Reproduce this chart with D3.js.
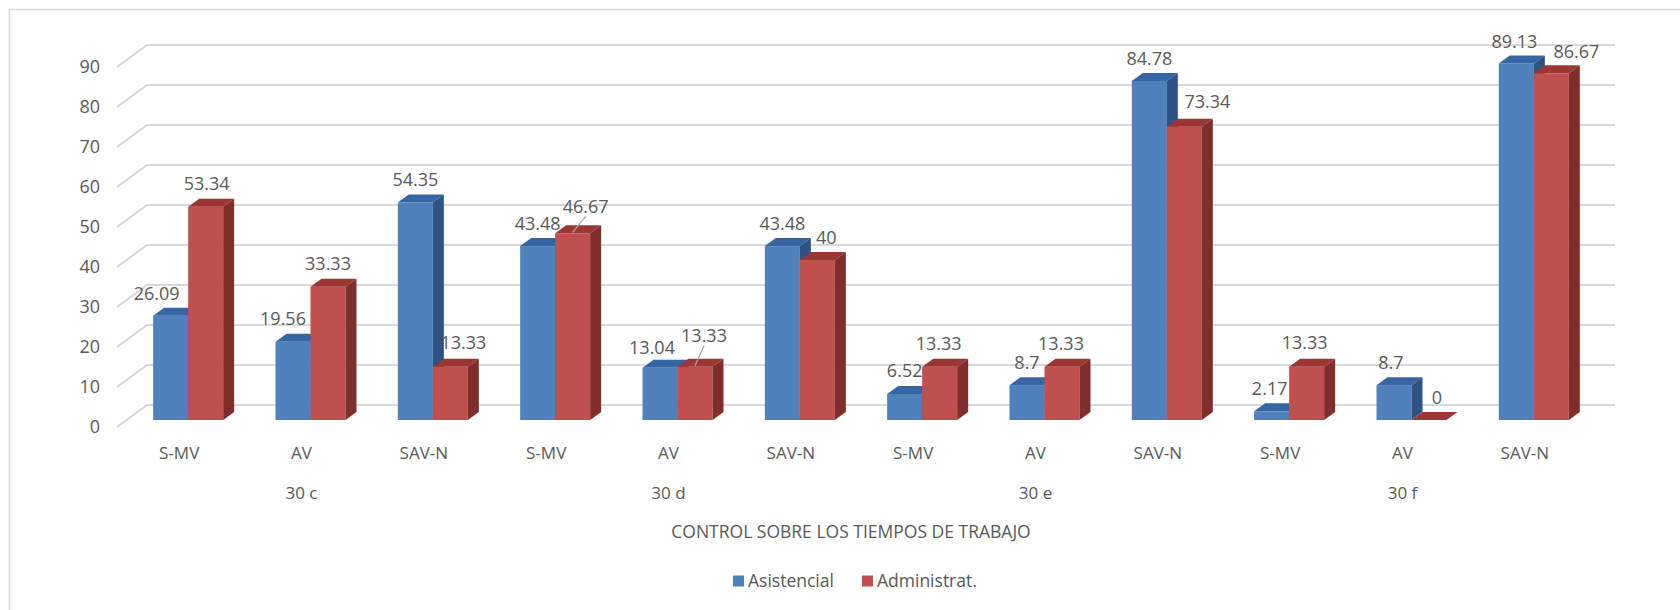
<!DOCTYPE html>
<html>
<head>
<meta charset="utf-8">
<script src="https://cdn.jsdelivr.net/npm/d3@7"></script>
<style>
  body { margin: 0; background: #fff; }
  text { font-family: "Open Sans", sans-serif; fill: #595959; }
</style>
</head>
<body>
<svg id="chart"></svg>
<script>
const width = 1680, height = 610;

// Data
const categories = ["S-MV", "AV", "SAV-N", "S-MV", "AV", "SAV-N", "S-MV", "AV", "SAV-N", "S-MV", "AV", "SAV-N"];
const groups = ["30 c", "30 d", "30 e", "30 f"];
const asistencial = [26.09, 19.56, 54.35, 43.48, 13.04, 43.48, 6.52, 8.7, 84.78, 2.17, 8.7, 89.13];
const administrat = [53.34, 33.33, 13.33, 46.67, 13.33, 40, 13.33, 13.33, 73.34, 13.33, 0, 86.67];
const seriesNames = ["Asistencial", "Administrat."];
const yTicks = [0, 10, 20, 30, 40, 50, 60, 70, 80, 90];
const axisTitle = "CONTROL SOBRE LOS TIEMPOS DE TRABAJO";

// Colours: front, top, side
const colors = {
    "Asistencial": ["#4f81bd", "#3665a3", "#2d5283"],
    "Administrat.": ["#c0504d", "#9a3734", "#7f2e2c"]
};

// 3D look: floor front edge, bar plane, back wall
const plotLeft = 117, plotRight = 1585;
const wallDx = 30, wallDy = 22;   // floor depth
const barDx = 10, barDy = 7;      // bar plane offset from floor front
const sideDx = 11, sideDy = 8;    // bar thickness
const barW = 35;

// label nudges (dx) so labels don't collide, like the original
const labelNudge = {
    "Asistencial": [-14, -10, 0, 0, -8, 0, 0, 0, 0, -2, -3, -2],
    "Administrat.": [1, 0, 13, 13, 9, 9, -1, -1, 23, -2, 8, 25]
};
const labelLift = {
    "Asistencial": [-22, -23, -23, -23, -20, -23, -23, -23, -22, -23, -23, -22],
    "Administrat.": [-23, -23, -24, -27, -31, -23, -23, -23, -25, -24, -23, -22]
};

const svg = d3.select("#chart")
    .attr("width", width)
    .attr("height", height)
    .style("background", "#fff");

// outer chart border (only top and left visible)
svg.append("path")
    .attr("d", `M9.5,${height} V9.5 H${width}`)
    .attr("fill", "none")
    .attr("stroke", "#d9d9d9")
    .attr("stroke-width", 1.5);

// y scale for the bar front plane
const y = d3.scaleLinear()
    .domain([0, 90])
    .range([420, 60]);

const x = d3.scaleBand()
    .domain(d3.range(categories.length))
    .range([plotLeft, plotRight])
    .padding(0);

const xs = d3.scaleBand()
    .domain(seriesNames)
    .range([0, barW * 2]);

// gridlines: back wall + left floor diagonal
const grid = svg.append("g");
yTicks.forEach(v => {
    const yf = y(v) + barDy;
    grid.append("path")
        .attr("d", `M${plotLeft},${yf} L${plotLeft + wallDx},${yf - wallDy} H${plotRight + wallDx}`)
        .attr("fill", "none")
        .attr("stroke", "#d9d9d9")
        .attr("stroke-width", 2);
});

// y axis labels on the floor front
const yFront = d3.scaleLinear()
    .domain([0, 90])
    .range([y(0) + barDy, y(90) + barDy]);

svg.append("g")
    .attr("transform", `translate(108, 0)`)
    .call(d3.axisLeft(yFront).tickValues(yTicks).tickSize(0).tickPadding(8))
    .call(g => g.select(".domain").remove())
    .selectAll("text")
    .style("font-family", "Open Sans, sans-serif")
    .style("font-size", "18px")
    .attr("fill", "#595959");

// bars
const series = [
    { name: "Asistencial", values: asistencial },
    { name: "Administrat.", values: administrat }
];

const bars = svg.append("g");
categories.forEach((c, i) => {
    series.forEach(s => {
        const v = s.values[i];
        const x0 = x(i) + (x.bandwidth() - barW * 2) / 2 + barDx + xs(s.name);
        const x1 = x0 + barW;
        const y0 = y(0), yt = y(v);
        const col = colors[s.name];
        // front
        bars.append("rect")
            .attr("x", x0).attr("y", yt)
            .attr("width", barW).attr("height", y0 - yt)
            .attr("fill", col[0]);
        // top
        bars.append("path")
            .attr("d", `M${x0},${yt} L${x0 + sideDx},${yt - sideDy} L${x1 + sideDx},${yt - sideDy} L${x1},${yt} Z`)
            .attr("fill", col[1]);
        // side
        bars.append("path")
            .attr("d", `M${x1},${yt} L${x1 + sideDx},${yt - sideDy} L${x1 + sideDx},${y0 - sideDy} L${x1},${y0} Z`)
            .attr("fill", col[2]);
    });
});

// data labels
const labels = svg.append("g");
categories.forEach((c, i) => {
    series.forEach(s => {
        const v = s.values[i];
        const cx = x(i) + (x.bandwidth() - barW * 2) / 2 + barDx + xs(s.name) + barW / 2;
        const lx = cx + labelNudge[s.name][i];
        const ly = y(v) + labelLift[s.name][i];
        // leader line when label is pushed away
        if (labelLift[s.name][i] < -26) {
            labels.append("line")
                .attr("x1", cx).attr("y1", y(v) - 1)
                .attr("x2", lx).attr("y2", ly + 10)
                .attr("stroke", "#a6a6a6")
                .attr("stroke-width", 1.2);
        }
        labels.append("text")
            .attr("x", lx)
            .attr("y", ly + 6.5)
            .attr("text-anchor", "middle")
            .style("font-size", "18px")
            .text(v);
    });
});

// category labels
svg.append("g").selectAll("text")
    .data(categories)
    .enter().append("text")
    .attr("x", (d, i) => x(i) + x.bandwidth() / 2 + 1)
    .attr("y", 459)
    .attr("text-anchor", "middle")
    .style("font-size", "17px")
    .text(d => d);

// group labels (centred under the middle category of each group)
svg.append("g").selectAll("text")
    .data(groups)
    .enter().append("text")
    .attr("x", (d, i) => x(i * 3 + 1) + x.bandwidth() / 2 + 1)
    .attr("y", 499)
    .attr("text-anchor", "middle")
    .style("font-size", "17px")
    .text(d => d);

// axis title
svg.append("text")
    .attr("x", (plotLeft + plotRight) / 2)
    .attr("y", 538)
    .attr("text-anchor", "middle")
    .style("font-size", "17.5px")
    .text(axisTitle);

// legend
const legendX = [733, 862];
const legend = svg.selectAll(".legend")
    .data(seriesNames)
    .enter().append("g")
    .attr("class", "legend")
    .attr("transform", (d, i) => `translate(${legendX[i]}, 581)`);

legend.append("rect")
    .attr("x", 0).attr("y", -5.5)
    .attr("width", 11).attr("height", 11)
    .attr("fill", d => colors[d][0]);

legend.append("text")
    .attr("x", 15)
    .attr("y", 6)
    .style("font-size", "17.5px")
    .text(d => d);
</script>
</body>
</html>
